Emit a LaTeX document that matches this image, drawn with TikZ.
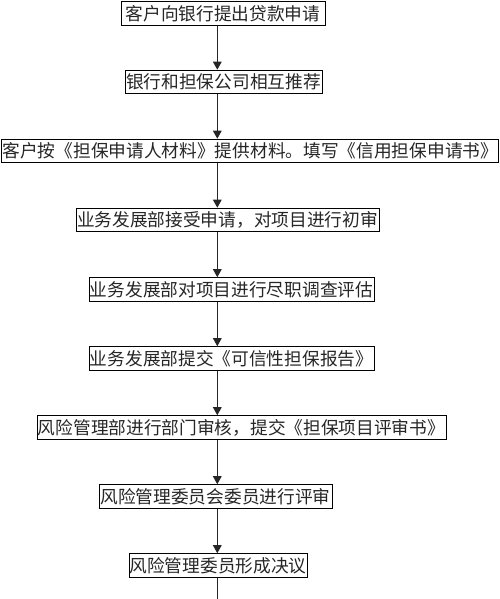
\documentclass[tikz,border=0pt]{standalone}
\usepackage{fontspec}
\newfontfamily\cjk{Noto Sans CJK SC}
\usetikzlibrary{arrows.meta}
\begin{document}
\begin{tikzpicture}[x=1pt,y=1pt,
  stepbox/.style={draw=black, line width=1pt, inner sep=0pt, minimum height=23.5pt,
    font=\cjk\fontsize{17.7pt}{17.7pt}\selectfont, text=black!85, anchor=center},
  flow/.style={draw=black!85, line width=1.4pt, -{Triangle[width=8.5pt,length=8pt]}},
  tail/.style={draw=black!85, line width=1.4pt}]
\useasboundingbox (0,0) rectangle (500,599);
\fill[white] (0,0) rectangle (500,599);
\node[stepbox, minimum width=204pt] (b1) at (223,585.5) {客户向银行提出贷款申请};
\node[stepbox, minimum width=197pt] (b2) at (223.5,517) {银行和担保公司相互推荐};
\node[stepbox, minimum width=497pt] (b3) at (250.3,448) {客户按《担保申请人材料》提供材料。填写《信用担保申请书》};
\node[stepbox, minimum width=303pt] (b4) at (227.5,379) {业务发展部接受申请，对项目进行初审};
\node[stepbox, minimum width=285pt] (b5) at (231.5,309.5) {业务发展部对项目进行尽职调查评估};
\node[stepbox, minimum width=285pt] (b6) at (231.5,240.5) {业务发展部提交《可信性担保报告》};
\node[stepbox, minimum width=409pt] (b7) at (241.5,171.5) {风险管理部进行部门审核，提交《担保项目评审书》};
\node[stepbox, minimum width=233pt] (b8) at (215.5,102.5) {风险管理委员会委员进行评审};
\node[stepbox, minimum width=178pt] (b9) at (218,33.5) {风险管理委员形成决议};
\coordinate (ax) at (217.3,0);
\coordinate (end) at (217.3,0);
\foreach \a/\b in {b1/b2,b2/b3,b3/b4,b4/b5,b5/b6,b6/b7,b7/b8,b8/b9}{
  \draw[flow] (\a.south -| ax) -- (\b.north -| ax);
}
\draw[tail] (b9.south -| ax) -- (end);
\end{tikzpicture}
\end{document}
